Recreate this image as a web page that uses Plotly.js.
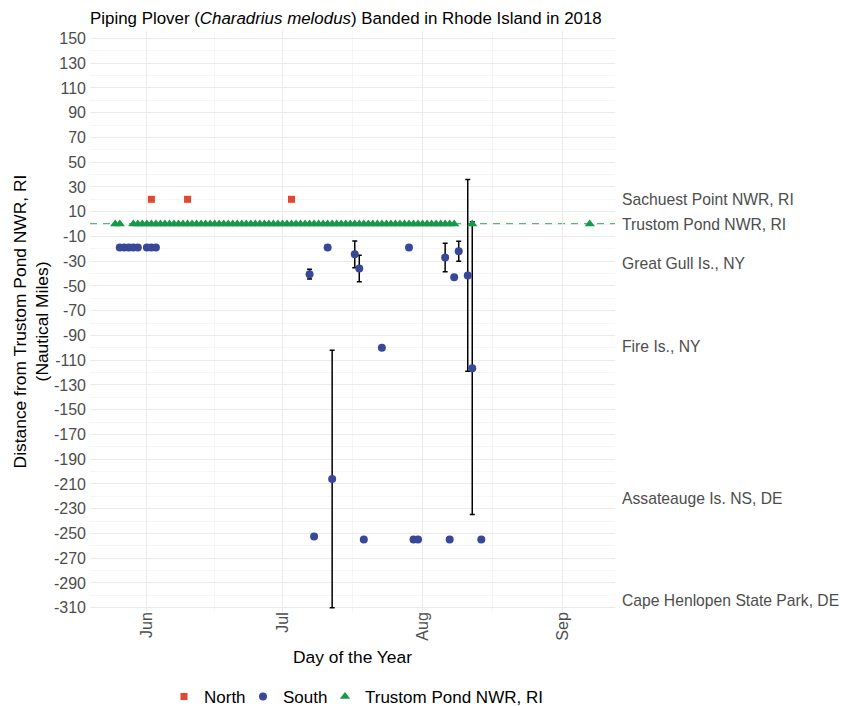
<!DOCTYPE html>
<html>
<head>
<meta charset="utf-8">
<script src="https://cdn.plot.ly/plotly-3.0.1.min.js"></script>
<style>html,body{margin:0;padding:0;background:#fff;}#chart{width:857px;height:706px;}</style>
</head>
<body>
<div id="chart"></div>
<script>
// ---- data ----
const northDates = ['2018-06-02', '2018-06-10', '2018-07-03'];
const northValues = [20, 20, 20];

const southDates = ['2018-05-26','2018-05-27','2018-05-28','2018-05-29','2018-05-30',
  '2018-06-01','2018-06-02','2018-06-03',
  '2018-07-07','2018-07-08','2018-07-11','2018-07-12','2018-07-17','2018-07-18','2018-07-19',
  '2018-07-23','2018-07-29','2018-07-30','2018-07-31',
  '2018-08-06','2018-08-07','2018-08-08','2018-08-09','2018-08-11','2018-08-12','2018-08-14'];
const southValues = [-19,-19,-19,-19,-19,
  -19,-19,-19,
  -40.5,-252.5,-19,-206,-24.5,-36,-255,
  -100,-19,-255,-255,
  -27,-255,-43,-22,-41.5,-116.5,-255];
const southErrors = [null,null,null,null,null,
  null,null,null,
  4,null,null,104,10.8,10.7,null,
  null,null,null,null,
  11.5,null,null,8,77.5,118.3,null];

const trustomDates = ['2018-05-25','2018-05-26','2018-05-29','2018-05-30','2018-05-31',
  '2018-06-01','2018-06-02','2018-06-03','2018-06-04','2018-06-05','2018-06-06','2018-06-07','2018-06-08','2018-06-09','2018-06-10',
  '2018-06-11','2018-06-12','2018-06-13','2018-06-14','2018-06-15','2018-06-16','2018-06-17','2018-06-18','2018-06-19','2018-06-20',
  '2018-06-21','2018-06-22','2018-06-23','2018-06-24','2018-06-25','2018-06-26','2018-06-27','2018-06-28','2018-06-29','2018-06-30',
  '2018-07-01','2018-07-02','2018-07-03','2018-07-04','2018-07-05','2018-07-06','2018-07-07','2018-07-08','2018-07-09','2018-07-10',
  '2018-07-11','2018-07-12','2018-07-13','2018-07-14','2018-07-15','2018-07-16','2018-07-17','2018-07-18','2018-07-19','2018-07-20',
  '2018-07-21','2018-07-22','2018-07-23','2018-07-24','2018-07-25','2018-07-26','2018-07-27','2018-07-28','2018-07-29','2018-07-30','2018-07-31',
  '2018-08-01','2018-08-02','2018-08-03','2018-08-04','2018-08-05','2018-08-06','2018-08-07','2018-08-08',
  '2018-08-12','2018-09-07'];
const trustomValues = trustomDates.map(() => 0);

const yTickValues = [150,130,110,90,70,50,30,10,-10,-30,-50,-70,-90,-110,-130,-150,-170,-190,-210,-230,-250,-270,-290,-310];
const xTickDates = ['2018-06-01','2018-07-01','2018-08-01','2018-09-01'];
const xTickLabels = ['Jun','Jul','Aug','Sep'];
const xMinorDates = ['2018-06-16','2018-07-16 12:00','2018-08-16 12:00'];

const siteNames = ['Sachuest Point NWR, RI','Trustom Pond NWR, RI','Great Gull Is., NY','Fire Is., NY','Assateauge Is. NS, DE','Cape Henlopen State Park, DE'];
const siteDistances = [20, 0, -32, -99, -222, -304];

// ---- styles ----
const RED = '#E5462F', BLUE = '#39479A', GREEN = '#17984A';
const FONT = 'Liberation Sans, Arial, Helvetica, sans-serif';
const PLOT_L = 90, PLOT_W = 525;
const px2paper = p => (p - PLOT_L) / PLOT_W;

// split south into points with / without error bars
const sNoErrX = [], sNoErrY = [], sErrX = [], sErrY = [], sErr = [];
southDates.forEach((d, i) => {
  if (southErrors[i] == null) { sNoErrX.push(d); sNoErrY.push(southValues[i]); }
  else { sErrX.push(d); sErrY.push(southValues[i]); sErr.push(southErrors[i]); }
});

const traces = [
  {x: northDates, y: northValues, type: 'scatter', mode: 'markers', name: 'North', legend: 'legend',
   marker: {symbol: 'square', color: RED, size: 7}},
  {x: sErrX, y: sErrY, type: 'scatter', mode: 'markers', name: 'South', showlegend: false,
   marker: {symbol: 'circle', color: BLUE, size: 8},
   error_y: {type: 'data', array: sErr, visible: true, color: '#000', thickness: 1.5, width: 2.5}},
  {x: sNoErrX, y: sNoErrY, type: 'scatter', mode: 'markers', name: 'South', legend: 'legend2',
   marker: {symbol: 'circle', color: BLUE, size: 8}},
  {x: trustomDates, y: trustomValues, type: 'scatter', mode: 'markers', name: 'Trustom Pond NWR, RI', legend: 'legend3',
   marker: {symbol: 'triangle-up', color: GREEN, size: 9}}
];

const annotations = siteNames.map((s, i) => ({
  text: s, xref: 'paper', x: 1, xanchor: 'left', xshift: 5, yref: 'y', y: siteDistances[i],
  yanchor: 'middle', showarrow: false, font: {family: FONT, size: 15.7, color: '#4D4D4D'}
}));

const legendBase = {orientation: 'h', xanchor: 'left', y: -0.146, yanchor: 'middle',
                    font: {family: FONT, size: 17, color: '#000'}, bgcolor: 'rgba(0,0,0,0)', borderwidth: 0};

const layout = {
  width: 857, height: 706,
  margin: {l: 90, r: 242, t: 31, b: 94, autoexpand: false},
  paper_bgcolor: '#fff', plot_bgcolor: '#fff',
  font: {family: FONT},
  title: {text: 'Piping Plover (<i>Charadrius melodus</i>) Banded in Rhode Island in 2018',
          x: 90/857, xref: 'container', xanchor: 'left', y: 1 - 18/706, yref: 'container', yanchor: 'middle',
          automargin: false,
          font: {family: FONT, size: 16.9, color: '#000'}},
  showlegend: true,
  legend: Object.assign({}, legendBase, {x: px2paper(164)}),
  legend2: Object.assign({}, legendBase, {x: px2paper(243)}),
  legend3: Object.assign({}, legendBase, {x: px2paper(325)}),
  xaxis: {type: 'date', range: ['2018-05-19 10:00', '2018-09-12 14:00'], automargin: false,
          tickmode: 'array', tickvals: xTickDates, ticktext: xTickLabels, tickangle: -90,
          tickfont: {family: FONT, size: 16, color: '#4D4D4D'}, ticks: '', ticklabelstandoff: -4,
          showgrid: true, gridcolor: '#EBEBEB', gridwidth: 1.1, zeroline: false, showline: false,
          minor: {tickmode: 'array', tickvals: xMinorDates, showgrid: true, gridcolor: '#F3F3F3', gridwidth: 0.8, ticks: ''},
          title: {text: 'Day of the Year', font: {family: FONT, size: 17.4, color: '#000'}, standoff: 11}},
  yaxis: {range: [-313.5, 156], automargin: false, tickmode: 'array', tickvals: yTickValues, ticktext: yTickValues.map(String),
          tickfont: {family: FONT, size: 16, color: '#4D4D4D'}, ticks: '', ticklabelstandoff: 3,
          showgrid: true, gridcolor: '#EBEBEB', gridwidth: 1.1, zeroline: false, showline: false,
          minor: {tick0: 0, dtick: 20, showgrid: true, gridcolor: '#F3F3F3', gridwidth: 0.8, ticks: ''},
          title: {text: 'Distance from Trustom Pond NWR, RI<br>(Nautical Miles)',
                  font: {family: FONT, size: 17.4, color: '#000'}, standoff: 0}},
  shapes: [{type: 'line', xref: 'paper', x0: 0, x1: 1, yref: 'y', y0: 0, y1: 0, layer: 'below',
            line: {color: '#22A058', width: 1.5, dash: '7px,6px'}}],
  annotations: annotations
};

Plotly.newPlot('chart', traces, layout, {staticPlot: true, displayModeBar: false});
</script>
</body>
</html>
